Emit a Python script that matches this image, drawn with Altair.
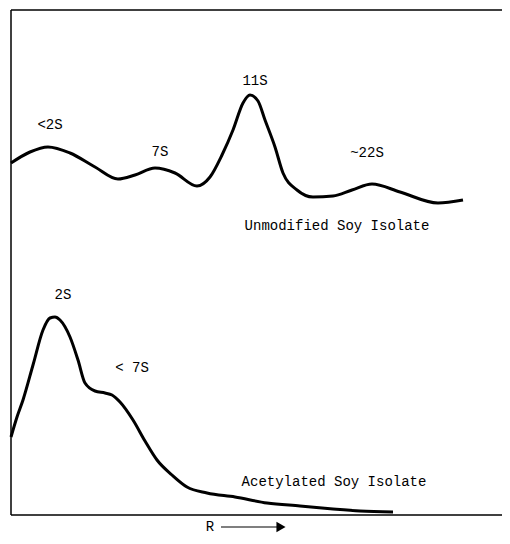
import altair as alt
import pandas as pd

# Upper trace: Unmodified Soy Isolate (x = relative position, y = detector response)
up_x = [0, 19, 37, 59, 84, 107, 124, 144, 164, 186, 199, 211, 222, 232, 239, 247, 254, 264, 272, 286, 302, 322, 341, 361, 389, 427, 452]
up_y = [352, 363, 368, 362, 348, 336, 340, 347, 342, 329, 338, 360, 385, 412, 420, 414, 395, 368, 342, 325, 318, 319, 325, 331, 323, 312, 315]

# Lower trace: Acetylated Soy Isolate
lo_x = [0, 6, 12, 22, 32, 39, 44, 49, 59, 67, 74, 84, 94, 101, 109, 122, 134, 146, 161, 176, 196, 224, 256, 289, 322, 349, 382]
lo_y = [78, 98, 115, 150, 185, 197, 198, 195, 178, 155, 132, 124, 122, 120, 113, 95, 74, 55, 40, 28, 22, 18, 12, 9, 6, 4, 3]

# Annotations
lab_text = ["<2S", "7S", "11S", "~22S", "Unmodified Soy Isolate", "2S", "< 7S", "Acetylated Soy Isolate", "R"]
lab_x = [39, 149, 244, 356, 326, 52, 121, 323, 199]
lab_y = [390, 363, 434, 362, 289, 220, 147, 33, -12]

arrow_x = [210]
arrow_x2 = [266]
arrow_y = [-12]
head_x = [270]

X_DOM = [0, 491]
Y_DOM = [0, 505]

# frame: horizontal lines (top, bottom) and left vertical line; no right edge
h_y = [505, 0]
h_x = [0, 0]
h_x2 = [491, 491]
v_x = [0]
v_y = [0]
v_y2 = [505]
r_x = [491]

up = pd.DataFrame({"x": up_x, "y": up_y, "s": "Unmodified"})
lo = pd.DataFrame({"x": lo_x, "y": lo_y, "s": "Acetylated"})
curves = pd.concat([up, lo])
labels = pd.DataFrame({"t": lab_text, "x": lab_x, "y": lab_y})
arrow = pd.DataFrame({"x": arrow_x, "x2": arrow_x2, "y": arrow_y, "hx": head_x})
hframe = pd.DataFrame({"x": h_x, "x2": h_x2, "y": h_y})
vframe = pd.DataFrame({"x": v_x, "y": v_y, "y2": v_y2})
rframe = pd.DataFrame({"x": r_x, "y": v_y, "y2": v_y2})

xs = alt.Scale(domain=X_DOM, nice=False, zero=False)
ys = alt.Scale(domain=Y_DOM, nice=False, zero=False)

# white cover over the right edge of the view
rcover = alt.Chart(rframe).mark_rule(color="white", strokeWidth=4, clip=False).encode(
    x=alt.X("x:Q", scale=xs, axis=None),
    y=alt.Y("y:Q", scale=ys, axis=None),
    y2="y2:Q",
)

hfrm = alt.Chart(hframe).mark_rule(color="black", strokeWidth=1.5, clip=False).encode(
    x=alt.X("x:Q", scale=xs, axis=None),
    x2="x2:Q",
    y=alt.Y("y:Q", scale=ys, axis=None),
)

vfrm = alt.Chart(vframe).mark_rule(color="black", strokeWidth=1.5, clip=False).encode(
    x=alt.X("x:Q", scale=xs, axis=None),
    y=alt.Y("y:Q", scale=ys, axis=None),
    y2="y2:Q",
)

lines = alt.Chart(curves).mark_line(
    color="black", strokeWidth=3, interpolate="monotone", clip=False
).encode(
    x=alt.X("x:Q", scale=xs, axis=None),
    y=alt.Y("y:Q", scale=ys, axis=None),
    detail="s:N",
)

text = alt.Chart(labels).mark_text(
    font="Liberation Mono", fontSize=14, color="black", baseline="middle", align="center", clip=False
).encode(
    x=alt.X("x:Q", scale=xs, axis=None),
    y=alt.Y("y:Q", scale=ys, axis=None),
    text="t:N",
)

arr = alt.Chart(arrow).mark_rule(color="black", strokeWidth=1.2, clip=False).encode(
    x=alt.X("x:Q", scale=xs, axis=None),
    x2="x2:Q",
    y=alt.Y("y:Q", scale=ys, axis=None),
)

head = alt.Chart(arrow).mark_point(
    shape="triangle-right", filled=True, color="black", size=110, opacity=1, clip=False
).encode(
    x=alt.X("hx:Q", scale=xs, axis=None),
    y=alt.Y("y:Q", scale=ys, axis=None),
)

chart = alt.layer(rcover, hfrm, vfrm, lines, text, arr, head).properties(
    width=491,
    height=505,
    autosize=alt.AutoSizeParams(type="none"),
    padding={"left": 3, "top": 2, "right": 0, "bottom": 21},
    view=alt.ViewBackground(stroke="transparent"),
).configure_view(
    stroke="transparent", strokeWidth=0
)

chart.save("out.html", embed_options={"renderer": "svg", "actions": False})
